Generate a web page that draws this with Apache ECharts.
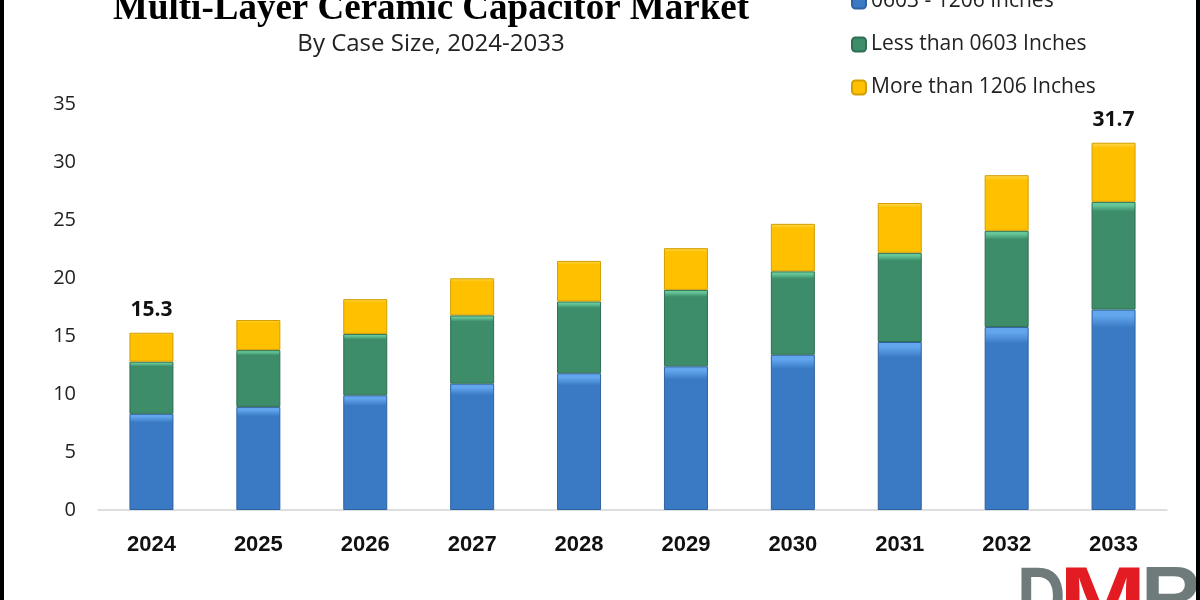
<!DOCTYPE html>
<html><head><meta charset="utf-8">
<script src="https://cdn.jsdelivr.net/npm/echarts@6/dist/echarts.min.js"></script>
<style>html,body{margin:0;padding:0;background:#fff}#c{width:1200px;height:600px}</style>
</head><body><div id="c"></div>
<script>
const categories = ['2024','2025','2026','2027','2028','2029','2030','2031','2032','2033'];
const seriesNames = ['0603 - 1206 Inches','Less than 0603 Inches','More than 1206 Inches'];
const midSize   = [8.3, 8.9, 9.9, 10.9, 11.8, 12.4, 13.4, 14.5, 15.8, 17.3];
const smallSize = [4.5, 4.9, 5.3, 5.9, 6.2, 6.6, 7.2, 7.7, 8.3, 9.3];
const largeSize = [2.5, 2.6, 3.0, 3.2, 3.5, 3.6, 4.1, 4.3, 4.8, 5.1];
const yMin = 0, yMax = 35, yStep = 5;
const labeledIdx = [0, 9];
const titleText = 'Multi-Layer Ceramic Capacitor Market';
const subtitleText = 'By Case Size, 2024-2033';

const chart = echarts.init(document.getElementById('c'), null, {renderer:'canvas'});
function grad(light, base){
  return new echarts.graphic.LinearGradient(0,0,0,1,[
    {offset:0,color:light},{offset:0.03,color:light},{offset:0.09,color:base},{offset:1,color:base}
  ]);
}
const styles = [
  {color: grad('#62A6EE','#3A7AC4'), borderColor:'#2F62A0'},
  {color: grad('#66C898','#3D8D6B'), borderColor:'#2F6E52'},
  {color: grad('#FFD23A','#FFC000'), borderColor:'#D29E00'}
];
const dataSets = [midSize, smallSize, largeSize];
const series = dataSets.map((d,k)=>({
  name: seriesNames[k], type:'bar', stack:'total', data:d, barWidth:44,
  itemStyle:{color:styles[k].color, borderColor:styles[k].borderColor, borderWidth:1},
  label: k===2 ? {
    show:true, position:'top', distance:12,
    fontFamily:'Open Sans', fontWeight:'bold', fontSize:21, color:'#111',
    formatter: p => labeledIdx.includes(p.dataIndex) ? (midSize[p.dataIndex]+smallSize[p.dataIndex]+largeSize[p.dataIndex]).toFixed(1) : ''
  } : {show:false}
}));

chart.setOption({
  animation:false,
  backgroundColor:'#fff',
  grid:{left:98, right:33, top:104.5, bottom:90, containLabel:false},
  legend:{
    orient:'vertical', left:846, top:-14, itemWidth:14, itemHeight:14, itemGap:22,
    selectedMode:false, data:seriesNames,
    textStyle:{fontFamily:'Open Sans', fontSize:21, color:'#222', lineHeight:20}
  },
  xAxis:{
    type:'category', data:categories,
    axisLine:{lineStyle:{color:'#D4D4D4', width:1.5}},
    axisTick:{show:false},
    axisLabel:{fontFamily:'Liberation Sans', fontWeight:'bold', fontSize:22, color:'#111', margin:24}
  },
  yAxis:{
    type:'value', min:yMin, max:yMax, interval:yStep,
    splitLine:{show:false}, axisLine:{show:false}, axisTick:{show:false},
    axisLabel:{fontFamily:'Open Sans', fontSize:20, color:'#222', margin:22}
  },
  series: series,
  graphic:[
    {type:'text', x:431, y:9, style:{text:titleText, fontFamily:'Liberation Serif', fontWeight:'bold', fontSize:37, fill:'#000', align:'center', verticalAlign:'middle'}},
    {type:'text', x:431, y:44, style:{text:subtitleText, fontFamily:'Open Sans', fontSize:24, fill:'#222', align:'center', verticalAlign:'middle'}},
    {type:'text', x:1017, y:560, scaleX:0.8, style:{text:'D', fontFamily:'Liberation Sans', fontWeight:'bold', fontSize:84, fill:'#6E7B7A', align:'left', verticalAlign:'top'}},
    {type:'text', x:1059, y:560, scaleX:1.25, style:{text:'M', fontFamily:'Liberation Sans', fontWeight:'bold', fontSize:84, fill:'#E31B23', align:'left', verticalAlign:'top'}},
    {type:'text', x:1141, y:560, style:{text:'R', fontFamily:'Liberation Sans', fontWeight:'bold', fontSize:84, fill:'#6E7B7A', align:'left', verticalAlign:'top'}},
    {type:'rect', shape:{x:0, y:0, width:4, height:600}, style:{fill:'#000'}},
    {type:'rect', shape:{x:1196, y:0, width:4, height:600}, style:{fill:'#000'}}
  ]
});
</script></body></html>
